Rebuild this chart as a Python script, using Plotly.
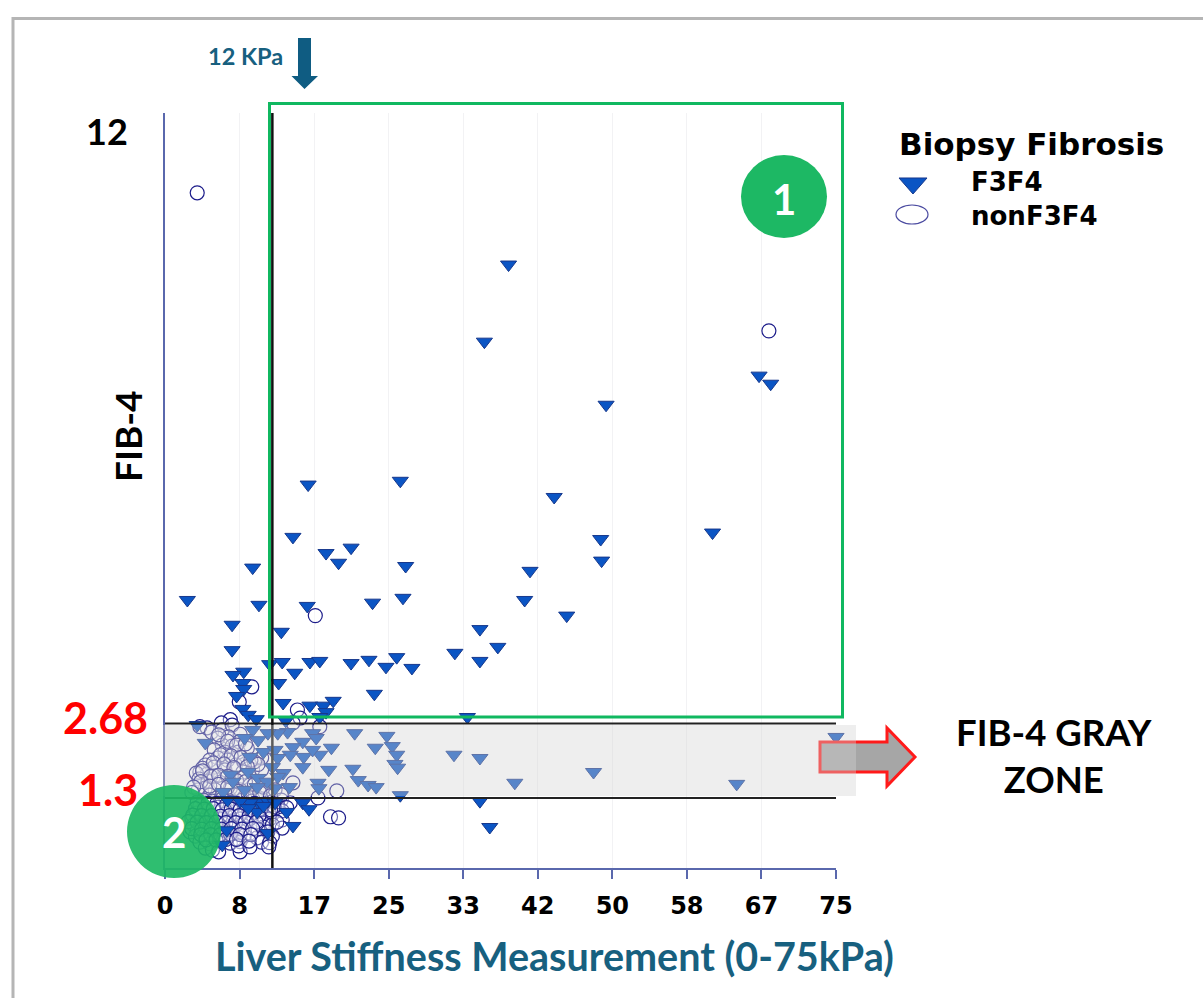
import plotly.graph_objects as go

# ---------- data ----------
x_ticks = [0, 8.33, 16.67, 25, 33.33, 41.67, 50, 58.33, 66.67, 75]
x_labels = ["0", "8", "17", "25", "33", "42", "50", "58", "67", "75"]

f3f4_lsm = [38.4, 35.7, 66.4, 67.7, 49.3, 16.0, 26.3, 43.5, 61.2, 48.7, 48.8, 14.3, 18.0, 20.8, 19.4, 9.8, 26.9, 40.8,
            2.5, 10.5, 15.9, 23.2, 26.6, 40.2, 44.9, 7.5, 13.0, 35.2, 37.2, 32.4, 35.2, 7.5, 8.8, 7.6, 11.7, 13.1, 14.5,
            16.2, 17.3, 20.8, 22.8, 24.7, 25.9, 27.6, 12.7, 8.7, 8.8, 8.0, 23.4, 13.2, 16.2, 17.7, 18.8, 18.0, 8.7, 9.3,
            10.2, 17.3, 13.5, 3.6, 33.8,
            21.2, 24.8, 23.5, 25.4, 25.9, 25.7, 26.0, 13.7, 12.6, 11.5, 9.8, 4.5, 8.9, 10.4, 11.0, 12.3, 15.4, 16.5, 16.9,
            14.3, 14.0, 15.5, 17.3, 18.6, 16.5, 9.5, 12.6, 12.0, 15.4, 18.3, 21.0, 9.3, 7.3, 10.4, 13.2, 12.6, 21.6, 22.7,
            23.6, 13.9, 17.1, 17.2, 12.3, 11.4, 7.6, 10.3, 8.9, 6.5, 26.3, 32.3, 35.2, 75.0, 39.1, 47.9, 63.9,
            35.2, 36.3, 10.3, 9.5, 15.4, 16.1, 13.6, 10.3, 14.3, 11.5, 6.4, 6.9,
            7.0, 8.4, 11.5, 12.3, 11.0, 9.3]
f3f4_fib4 = [11.19, 9.76, 9.13, 8.98, 8.59, 7.11, 7.18, 6.88, 6.22, 6.10, 5.70, 6.14, 5.84, 5.94, 5.66, 5.57, 5.60, 5.51,
             4.97, 4.88, 4.86, 4.92, 5.01, 4.97, 4.68, 4.51, 4.38, 4.43, 4.10, 3.99, 3.84, 4.04, 3.64, 3.58, 3.78, 3.82, 3.62,
             3.82, 3.84, 3.80, 3.86, 3.73, 3.91, 3.71, 3.43, 3.43, 3.32, 3.19, 3.23, 3.06, 3.01, 3.01, 3.10, 2.89, 2.95, 2.84,
             2.76, 2.80, 2.73, 2.65, 2.80,
             2.50, 2.45, 2.23, 2.26, 2.10, 1.93, 1.86, 2.52, 2.50, 2.50, 2.56, 2.32, 2.41, 2.37, 2.15, 2.19, 2.34, 2.50, 2.41,
             2.24, 2.10, 2.06, 2.10, 2.23, 2.19, 2.06, 2.04, 1.87, 1.87, 1.82, 1.84, 1.78, 1.73, 1.67, 1.76, 1.69, 1.63, 1.54,
             1.50, 1.50, 1.58, 1.48, 1.48, 1.60, 1.60, 1.50, 1.45, 1.41, 1.35, 2.10, 2.04, 2.43, 1.58, 1.78, 1.56,
             1.24, 0.76, 1.22, 1.21, 1.21, 1.09, 1.04, 1.04, 0.78, 0.65, 0.43, 0.70,
             1.26, 1.24, 1.24, 1.21, 1.15, 1.11]

non_lsm = [3.6, 67.5, 16.8, 9.7, 8.3, 14.8, 15.1, 14.3, 7.3, 6.3, 4.7, 3.9, 17.3,
           5.2, 6.4, 7.5, 8.4, 7.1, 5.9, 6.4, 7.5, 8.3, 5.5, 6.7, 8.2, 9.2, 5.9, 7.0, 5.0, 4.5, 5.5, 6.7, 7.9, 8.8, 8.7,
           3.9, 4.7, 4.2, 3.5, 3.8, 4.8, 5.5, 6.1, 7.5, 8.6, 9.8, 10.8, 11.7, 10.8, 10.0, 9.5, 8.4, 7.3, 5.6, 4.5, 3.7,
           5.0, 6.3, 7.8, 8.9, 10.1, 11.2, 12.3, 14.3, 17.1, 19.2, 18.5, 19.4,
           4.3, 5.3, 6.4, 7.5, 8.6, 9.7, 10.8, 11.9, 13.0, 14.0,
           3.9, 4.8, 5.9, 7.0, 8.2, 9.3, 10.4, 11.5, 12.6,
           3.5, 4.5, 5.6, 6.7, 7.8, 8.9, 10.1, 11.2, 12.0, 13.1,
           3.0, 3.9, 5.0, 6.1, 7.3, 8.4, 9.5, 10.6, 11.7, 13.1, 11.0,
           3.2, 4.3, 5.4, 6.5, 7.6, 8.7, 9.9, 11.0, 12.0,
           2.8, 3.6, 4.8, 5.9, 7.0, 8.4, 9.5, 10.4, 11.5, 13.1,
           3.4, 4.5, 5.6, 6.7, 7.8, 8.9, 10.3, 12.0,
           3.9, 5.0, 6.1, 7.3, 8.4, 10.8, 11.7,
           4.5, 5.3, 6.0, 8.4, 8.2, 9.5, 11.6]
non_fib4 = [12.52, 9.96, 4.68, 3.36, 3.08, 2.93, 2.78, 2.69, 2.75, 2.69, 2.60, 2.62, 2.62,
            2.52, 2.56, 2.65, 2.48, 2.43, 2.41, 2.28, 2.26, 2.34, 2.19, 2.15, 2.15, 2.22, 2.04, 2.00, 2.00, 1.91, 1.87, 1.82,
            1.91, 1.97, 1.78, 1.78, 1.74, 1.85, 1.76, 1.65, 1.61, 1.71, 1.59, 1.67, 1.67, 1.82, 1.82, 2.00, 2.04, 1.97, 1.54,
            1.45, 1.48, 1.45, 1.48, 1.45, 1.35, 1.32, 1.35, 1.32, 1.35, 1.39, 1.45, 1.58, 1.30, 1.43, 0.95, 0.93,
            1.26, 1.24, 1.28, 1.22, 1.26, 1.24, 1.28, 1.22, 1.26, 1.21,
            1.15, 1.17, 1.13, 1.17, 1.15, 1.11, 1.15, 1.13, 1.17,
            1.02, 1.06, 1.04, 1.00, 1.04, 1.06, 1.02, 1.04, 1.00, 1.06,
            0.93, 0.89, 0.93, 0.91, 0.87, 0.91, 0.93, 0.89, 0.91, 0.89, 0.83,
            0.80, 0.76, 0.78, 0.82, 0.76, 0.80, 0.78, 0.76, 0.80,
            0.67, 0.70, 0.65, 0.71, 0.67, 0.69, 0.65, 0.71, 0.67, 0.74,
            0.59, 0.56, 0.61, 0.58, 0.54, 0.60, 0.56, 0.59,
            0.48, 0.45, 0.50, 0.46, 0.49, 0.48, 0.47,
            0.37, 0.33, 0.30, 0.30, 0.41, 0.39, 0.39]

# further nonF3F4 points from the dense cluster
cluster_lsm = [6.0, 7.0, 8.0, 9.0, 6.2, 7.4, 8.5, 9.6, 10.4, 5.4, 6.6, 7.7, 9.2, 4.2, 5.1, 6.0, 7.0, 8.0, 9.0, 10.0,
               11.0, 4.0, 5.0, 6.0, 7.0, 8.2, 9.3, 10.6, 3.2, 3.0, 11.8, 13.0,
               3.6, 4.8, 5.8, 6.9, 8.0, 9.0, 10.0, 11.0, 12.2, 13.6, 3.4, 4.4, 5.4, 6.4, 7.4, 8.4, 9.6, 10.7, 11.8,
               3.1, 4.1, 5.2, 6.2, 7.2, 8.3, 9.4, 10.5, 2.6, 3.6, 4.6, 5.7, 6.8, 7.9, 9.0, 10.2, 12.5,
               3.0, 4.1, 5.2, 6.3, 7.4, 8.6, 9.8, 4.0, 5.1, 6.2, 7.3, 8.4, 9.6, 4.6, 5.7, 6.8, 8.0, 9.4]
cluster_fib4 = [2.47, 2.35, 2.28, 2.30, 2.10, 2.08, 2.05, 2.00, 1.92, 1.95, 1.93, 1.86, 1.88, 1.80, 1.70, 1.72, 1.70, 1.62, 1.60, 1.55,
                1.50, 1.60, 1.52, 1.55, 1.50, 1.42, 1.38, 1.40, 1.50, 1.40, 1.34, 1.36,
                1.22, 1.20, 1.20, 1.18, 1.20, 1.18, 1.20, 1.18, 1.14, 1.12, 1.10, 1.09, 1.10, 1.08, 1.09, 1.08, 1.08, 1.09, 1.08,
                0.98, 0.97, 0.97, 0.96, 0.97, 0.97, 0.96, 0.97, 0.86, 0.85, 0.84, 0.85, 0.84, 0.84, 0.85, 0.85, 0.85,
                0.73, 0.72, 0.73, 0.72, 0.73, 0.72, 0.73, 0.62, 0.62, 0.62, 0.63, 0.62, 0.62, 0.52, 0.52, 0.53, 0.53, 0.50]

fib4_low, fib4_high, lsm_cut = 1.3, 2.68, 12

# ---------- layout helpers for the decoration (page pixels to paper fractions) ----------
L, R, T, B = 165, 836, 113, 868
px = lambda p: (p - L) / (R - L)
py = lambda p: (B - p) / (B - T)

def poly(pts):
    return "M " + " L ".join(f"{px(a):.5f},{py(b):.5f}" for a, b in pts) + " Z"

tri_blue, tri_edge, ring = "#0b55c4", "#17388c", "#1c1c8a"

fig = go.Figure()
fig.add_trace(go.Scatter(x=non_lsm + cluster_lsm, y=non_fib4 + cluster_fib4, mode="markers", name="nonF3F4", cliponaxis=False,
                         marker=dict(symbol="circle", size=14, color="rgba(255,255,255,0.35)", line=dict(color=ring, width=1.2))))
fig.add_trace(go.Scatter(x=f3f4_lsm, y=f3f4_fib4, mode="markers", name="F3F4", cliponaxis=False,
                         marker=dict(symbol="triangle-down", size=14, color=tri_blue, line=dict(color=tri_edge, width=1))))

navy = "#5a68ad"
shapes = [
    # outer frame
    dict(type="path", path=f"M {px(13):.5f},{py(998):.5f} L {px(13):.5f},{py(18.5):.5f} L {px(1203):.5f},{py(18.5):.5f}",
         xref="paper", yref="paper", line=dict(color="#b5b5b5", width=3)),
    # thresholds
    dict(type="line", xref="x", yref="y", x0=0, x1=75, y0=fib4_high, y1=fib4_high, line=dict(color="#222", width=2)),
    dict(type="line", xref="x", yref="y", x0=0, x1=75, y0=fib4_low, y1=fib4_low, line=dict(color="#222", width=2)),
    dict(type="line", xref="x", yref="y", x0=lsm_cut, x1=lsm_cut, y0=0, y1=14, line=dict(color="#111", width=2.5)),
    # red block arrow
    dict(type="path", xref="paper", yref="paper", fillcolor="#a6a6a6", line=dict(color="#ff1a1a", width=3),
         path=poly([(820, 742), (887, 742), (887, 728), (915, 757), (887, 786), (887, 772), (820, 772)])),
    # gray zone
    dict(type="rect", xref="paper", yref="paper", x0=px(163), x1=px(856), y0=py(796), y1=py(725),
         fillcolor="rgba(210,210,210,0.385)", line=dict(width=0)),
    # green box
    dict(type="rect", xref="paper", yref="paper", x0=px(269.5), x1=px(842.5), y0=py(717), y1=py(103.5),
         line=dict(color="#10b860", width=3)),
    # green discs
    dict(type="circle", xref="paper", yref="paper", x0=px(127), x1=px(221), y0=py(878), y1=py(785),
         fillcolor="rgba(29,184,100,0.92)", line=dict(width=0)),
    dict(type="circle", xref="paper", yref="paper", x0=px(741), x1=px(827), y0=py(238), y1=py(155),
         fillcolor="#1db864", line=dict(width=0)),
    # 12 kPa arrow
    dict(type="path", xref="paper", yref="paper", fillcolor="#0f5c82", line=dict(width=0),
         path=poly([(298, 38), (311, 38), (311, 76), (318, 76), (304.5, 89), (291.5, 76), (298, 76)])),
    # legend keys
    dict(type="path", xref="paper", yref="paper", fillcolor=tri_blue, line=dict(color=tri_edge, width=1),
         path=poly([(899, 178), (927, 178), (913, 194)])),
    dict(type="circle", xref="paper", yref="paper", x0=px(896), x1=px(928), y0=py(224), y1=py(205),
         fillcolor="white", line=dict(color="#4a4aa0", width=1.2)),
]

def note(text, x, y, size, color, family="Lato", anchor="center"):
    return dict(text=text, xref="paper", yref="paper", x=px(x), y=py(y), showarrow=False,
                xanchor=anchor, yanchor="middle", font=dict(family=family, size=size, color=color))

notes = [
    note("<b>12 KPa</b>", 245, 56, 23.5, "#17607f"),
    note("<b>12</b>", 107, 131, 36, "black"),
    {**note("<b>FIB-4</b>", 127, 436, 37, "black"), "textangle": -90},
    note("<b>2.68</b>", 105, 717, 43, "#ff0000"),
    note("<b>1.3</b>", 108, 789, 43, "#ff0000"),
    note("<b>2</b>", 174, 832, 42, "white"),
    note("<b>1</b>", 784, 199, 42, "white"),
    note("<b>FIB-4 GRAY<br>ZONE</b>", 1054, 755, 36.5, "black"),
    note("<b>Liver Stiffness Measurement (0-75kPa)</b>", 554, 955, 39.5, "#17607f"),
    note("<b>Biopsy Fibrosis</b>", 897, 144, 31, "black", "DejaVu Sans", "left"),
    note("<b>F3F4</b>", 969, 182, 26, "black", "DejaVu Sans", "left"),
    note("<b>nonF3F4</b>", 969, 216, 26, "black", "DejaVu Sans", "left"),
]

fig.update_layout(
    width=1203, height=998, autosize=False,
    margin=dict(l=L, r=1203 - R, t=T, b=998 - B),
    paper_bgcolor="white", plot_bgcolor="white",
    shapes=shapes, annotations=notes,
    xaxis=dict(range=[0, 75], tickmode="array", tickvals=x_ticks, ticktext=x_labels, showgrid=True,
               gridcolor="#f2f2f4", gridwidth=1, zeroline=False, showline=True, linecolor=navy, linewidth=1.5,
               ticks="outside", ticklen=9, tickcolor=navy, tickwidth=1.5, ticklabelstandoff=6,
               tickfont=dict(family="DejaVu Sans", size=24, color="black", weight="bold")),
    yaxis=dict(range=[0, 14], showgrid=False, zeroline=False, showline=True, linecolor=navy, linewidth=1.5,
               showticklabels=False, ticks=""),
    showlegend=False,
)
fig.write_html("out.html", config={"displayModeBar": False}, post_script="document.body.style.margin='0';")
